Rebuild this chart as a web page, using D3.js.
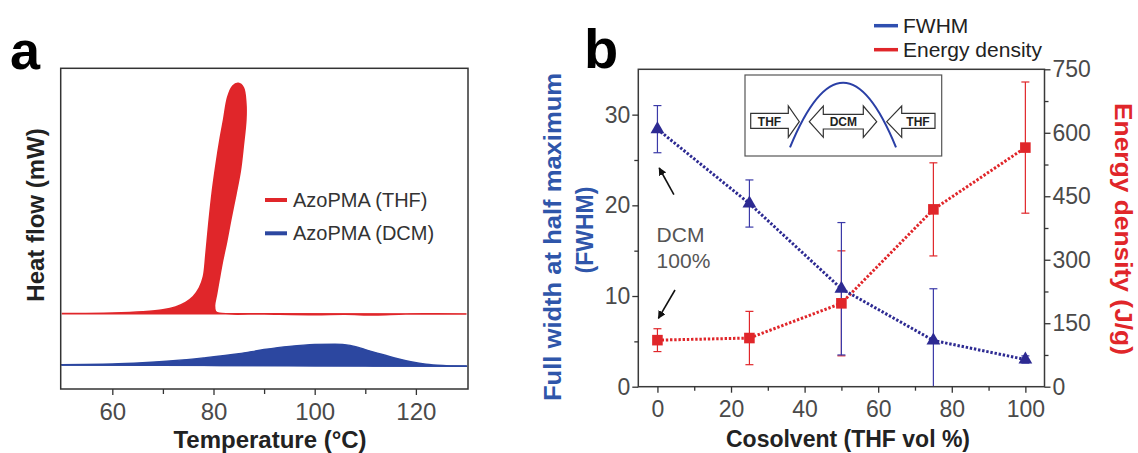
<!DOCTYPE html>
<html>
<head>
<meta charset="utf-8">
<script src="https://cdn.jsdelivr.net/npm/d3@7"></script>
<style>
  body { margin: 0; background: #fff; }
  svg { font-family: "Liberation Sans", Arial, sans-serif; }
  .tick text { fill: #4a4a4a; }
  .tick line { stroke: #333; stroke-width: 1.3; }
</style>
</head>
<body>
<svg id="chart" width="1138" height="453"></svg>
<script>
// ---- panel a: DSC traces (temperature in C, heat flow in arbitrary units) ----
const thfRiseT = [50, 60, 66, 70, 72.5, 74.5, 76, 77.2, 78, 78.5, 79.1, 79.8, 80.5, 81.3, 82, 82.8, 83.8, 84.9];
const thfRiseH = [23.5, 23.7, 24.1, 24.7, 25.6, 27.0, 28.8, 31.5, 35, 42, 52, 62, 70, 78, 84, 91, 94.5, 95.3];
const thfFallT = [85.9, 86.4, 86.4, 85.9, 85.3, 84.4, 83.4, 82.6, 81.8, 81.1, 80.6, 80.2, 80.4, 81.2, 90, 100, 106, 112, 118, 130];
const thfFallH = [94, 89, 84, 76, 68, 60.5, 52.7, 46, 40, 34, 29.5, 26, 24.2, 23.6, 23.4, 23.2, 23.3, 23.1, 23.4, 23.4];
const dcmT = [50, 60, 66, 72, 78, 85, 90, 95, 100, 104, 107, 110, 113, 116, 119, 122, 126, 130];
const dcmH = [7.6, 7.8, 8.2, 8.8, 9.7, 11.0, 12.3, 13.3, 13.9, 14.0, 13.6, 12.3, 10.9, 9.6, 8.5, 7.7, 7.3, 7.15];
const dcmBaseT = [50, 130];
const dcmBaseH = [7.5, 7.1];
const tempTicks = [60, 80, 100, 120];
const tempMinorTicks = [70, 90, 110];
const dscLegend = ['AzoPMA (THF)', 'AzoPMA (DCM)'];

// ---- panel b: FWHM and energy density vs cosolvent ----
const cosolvent = [0, 25, 50, 75, 100];
const fwhm = [28.4, 20.2, 10.8, 5.1, 3.0];
const fwhmErr = [2.6, 2.6, 7.3, 5.7, 0.4];
const energy = [110, 115, 197, 419, 565];
const energyErr = [27, 63, 124, 110, 155];
const cosolventTicks = [0, 20, 40, 60, 80, 100];
const cosolventMinorTicks = [10, 30, 50, 70, 90];
const fwhmTicks = [0, 10, 20, 30];
const fwhmMinorTicks = [5, 15, 25];
const energyTicks = [0, 150, 300, 450, 600, 750];
const energyMinorTicks = [75, 225, 375, 525, 675];
const solventLegend = ['FWHM', 'Energy density'];

const RED = '#e0262a';
const BLUE_A = '#2c47a0';
const NAVY = '#2d2a92';
const TITLE_BLUE = '#2f56aa';

const svg = d3.select('#chart');

// ================= panel a =================
function drawDsc() {
    const box = {left: 60.7, top: 68.3, right: 468, bottom: 389};
    const x = d3.scaleLinear().domain([49.8, 130.3]).range([box.left, box.right]);
    const y = d3.scaleLinear().domain([0, 100]).range([box.bottom, box.top]);
    const g = svg.append('g');

    // THF trace: rising edge then the returning edge, closed onto the baseline
    const thfPts = d3.zip(thfRiseT, thfRiseH).concat(d3.zip(thfFallT, thfFallH));
    const loop = d3.line().x(d => x(d[0])).y(d => y(d[1])).curve(d3.curveCatmullRom.alpha(0.5));
    g.append('path')
        .attr('d', loop(thfPts) + 'Z')
        .attr('fill', RED)
        .attr('stroke', RED)
        .attr('stroke-width', 1.6);

    // DCM trace: area between linear baseline and curve
    const base = d3.scaleLinear().domain(dcmBaseT).range(dcmBaseH);
    const dcmPts = d3.zip(dcmT, dcmH);
    g.append('path')
        .attr('d', d3.area()
            .x(d => x(d[0]))
            .y0(d => y(base(d[0])))
            .y1(d => y(d[1]))
            .curve(d3.curveMonotoneX)(dcmPts))
        .attr('fill', BLUE_A)
        .attr('stroke', BLUE_A)
        .attr('stroke-width', 1.4);
    g.append('line')
        .attr('x1', x(dcmBaseT[0])).attr('x2', x(dcmBaseT[1]))
        .attr('y1', y(dcmBaseH[0])).attr('y2', y(dcmBaseH[1]))
        .attr('stroke', BLUE_A).attr('stroke-width', 1.4);

    // frame
    g.append('rect')
        .attr('x', box.left).attr('y', box.top)
        .attr('width', box.right - box.left).attr('height', box.bottom - box.top)
        .attr('fill', 'none').attr('stroke', '#333').attr('stroke-width', 1.5);

    const xAxisG = g.append('g').attr('transform', `translate(0,${box.bottom})`);
    xAxisG.call(d3.axisBottom(x).tickValues(tempTicks).tickSize(6).tickPadding(8).tickSizeOuter(0))
        .call(a => a.select('.domain').remove());
    xAxisG.selectAll('text').style('font-size', '24px');
    g.append('g').attr('transform', `translate(0,${box.bottom})`)
        .call(d3.axisBottom(x).tickValues(tempMinorTicks).tickSize(5).tickFormat('').tickSizeOuter(0))
        .call(a => a.select('.domain').remove());

    g.append('text')
        .attr('x', 270).attr('y', 448)
        .attr('text-anchor', 'middle')
        .style('font-size', '24px').style('font-weight', 'bold').attr('fill', '#222')
        .text('Temperature (°C)');
    g.append('text')
        .attr('transform', 'translate(36,215) rotate(-90)')
        .attr('dy', '0.35em')
        .attr('text-anchor', 'middle')
        .style('font-size', '24px').style('font-weight', 'bold').attr('fill', '#222')
        .text('Heat flow (mW)');

    // legend
    const legend = g.selectAll('.dsc-legend')
        .data(dscLegend)
        .join('g')
        .attr('class', 'dsc-legend')
        .attr('transform', (d, i) => `translate(265,${200 + i * 33.3})`);
    legend.append('line')
        .attr('x1', 0).attr('x2', 22)
        .attr('stroke', (d, i) => i === 0 ? RED : BLUE_A)
        .attr('stroke-width', 4);
    legend.append('text')
        .attr('x', 28).attr('dy', '0.35em')
        .style('font-size', '20px').attr('fill', '#333')
        .text(d => d);

    svg.append('text')
        .attr('x', 10).attr('y', 69)
        .style('font-size', '54px').style('font-weight', 'bold')
        .text('a');
}

// ================= panel b =================
function drawSolvent() {
    const box = {left: 638.3, top: 69.3, right: 1044.5, bottom: 386.7};
    const x = d3.scaleLinear().domain([-5.2, 105.2]).range([box.left, box.right]);
    const yL = d3.scaleLinear().domain([0, 35]).range([box.bottom, box.top]);
    const yR = d3.scaleLinear().domain([0, 750]).range([box.bottom, box.top]);
    const g = svg.append('g');

    // inset sketch (local coordinates inside its own frame)
    const inset = g.append('g').attr('transform', 'translate(745,75)');
    inset.append('rect')
        .attr('width', 196.7).attr('height', 81)
        .attr('fill', '#fff').attr('stroke', '#555').attr('stroke-width', 1.2);
    const arc = d3.path();
    arc.moveTo(45, 72.3);
    arc.quadraticCurveTo(98.3, -56.9, 151, 72.3);
    inset.append('path')
        .attr('d', arc.toString())
        .attr('fill', 'none').attr('stroke', '#2a3fa6').attr('stroke-width', 2);
    const arrowStyle = s => s.attr('fill', '#fff').attr('stroke', '#333').attr('stroke-width', 1.2);
    inset.append('path')
        .attr('d', 'M5.7,38.3H43.3V31L54.3,46.7L43.3,62.3V53.3H5.7Z')
        .call(arrowStyle);
    inset.append('path')
        .attr('d', 'M64.3,46.7L78.3,31V39.3H118.3V31L131.7,46.7L118.3,62.3V54H78.3V62.3Z')
        .call(arrowStyle);
    inset.append('path')
        .attr('d', 'M190,38.3H156.7V31L141.7,46.7L156.7,62.3V53.3H190Z')
        .call(arrowStyle);
    inset.selectAll('.inset-label')
        .data([['THF', 24.5], ['DCM', 98.3], ['THF', 173]])
        .join('text')
        .attr('class', 'inset-label')
        .attr('x', d => d[1]).attr('y', 46.7).attr('dy', '0.36em')
        .attr('text-anchor', 'middle')
        .style('font-size', '12px').style('font-weight', 'bold').attr('fill', '#222')
        .text(d => d[0]);

    // error bars
    function errorBars(values, errs, yScale, color, cls) {
        const rows = cosolvent.map((c, i) => ({c, lo: Math.max(0, values[i] - errs[i]), hi: values[i] + errs[i], clipped: values[i] - errs[i] < 0}));
        const eg = g.append('g').attr('stroke', color).attr('stroke-width', 1.2);
        eg.selectAll('.' + cls + '-v').data(rows).join('line')
            .attr('x1', d => x(d.c)).attr('x2', d => x(d.c))
            .attr('y1', d => yScale(d.lo)).attr('y2', d => yScale(d.hi));
        eg.selectAll('.' + cls + '-top').data(rows).join('line')
            .attr('x1', d => x(d.c) - 4).attr('x2', d => x(d.c) + 4)
            .attr('y1', d => yScale(d.hi)).attr('y2', d => yScale(d.hi));
        eg.selectAll('.' + cls + '-bot').data(rows.filter(d => !d.clipped)).join('line')
            .attr('x1', d => x(d.c) - 4).attr('x2', d => x(d.c) + 4)
            .attr('y1', d => yScale(d.lo)).attr('y2', d => yScale(d.lo));
    }
    errorBars(energy, energyErr, yR, RED, 'e');
    errorBars(fwhm, fwhmErr, yL, '#3b3aa8', 'f');

    // dotted connecting lines
    g.append('path')
        .attr('d', d3.line().x(d => x(d[0])).y(d => yR(d[1]))(d3.zip(cosolvent, energy)))
        .attr('fill', 'none').attr('stroke', RED)
        .attr('stroke-width', 3).attr('stroke-dasharray', '2.4,1.8');
    g.append('path')
        .attr('d', d3.line().x(d => x(d[0])).y(d => yL(d[1]))(d3.zip(cosolvent, fwhm)))
        .attr('fill', 'none').attr('stroke', NAVY)
        .attr('stroke-width', 3).attr('stroke-dasharray', '2.4,1.8');

    // markers
    g.selectAll('.e-point').data(d3.zip(cosolvent, energy)).join('path')
        .attr('class', 'e-point')
        .attr('transform', d => `translate(${x(d[0])},${yR(d[1])})`)
        .attr('d', d3.symbol(d3.symbolSquare, 112)())
        .attr('fill', RED);
    g.selectAll('.f-point').data(d3.zip(cosolvent, fwhm)).join('path')
        .attr('class', 'f-point')
        .attr('transform', d => `translate(${x(d[0])},${yL(d[1])})`)
        .attr('d', d3.symbol(d3.symbolTriangle, 82)())
        .attr('fill', NAVY);

    // frame and axes
    g.append('rect')
        .attr('x', box.left).attr('y', box.top)
        .attr('width', box.right - box.left).attr('height', box.bottom - box.top)
        .attr('fill', 'none').attr('stroke', '#3a3a3a').attr('stroke-width', 1.5);

    const bottomG = g.append('g').attr('transform', `translate(0,${box.bottom})`);
    bottomG.call(d3.axisBottom(x).tickValues(cosolventTicks).tickSize(6).tickPadding(8).tickSizeOuter(0))
        .call(a => a.select('.domain').remove());
    bottomG.selectAll('text').style('font-size', '23px');
    g.append('g').attr('transform', `translate(0,${box.bottom})`)
        .call(d3.axisBottom(x).tickValues(cosolventMinorTicks).tickSize(4).tickFormat('').tickSizeOuter(0))
        .call(a => a.select('.domain').remove());

    const leftG = g.append('g').attr('transform', `translate(${box.left},0)`);
    leftG.call(d3.axisLeft(yL).tickValues(fwhmTicks).tickSize(6).tickPadding(2).tickSizeOuter(0))
        .call(a => a.select('.domain').remove());
    leftG.selectAll('text').style('font-size', '23px');
    g.append('g').attr('transform', `translate(${box.left},0)`)
        .call(d3.axisLeft(yL).tickValues(fwhmMinorTicks).tickSize(4).tickFormat('').tickSizeOuter(0))
        .call(a => a.select('.domain').remove());

    const rightG = g.append('g').attr('transform', `translate(${box.right},0)`);
    rightG.call(d3.axisRight(yR).tickValues(energyTicks).tickSize(6).tickPadding(2).tickSizeOuter(0))
        .call(a => a.select('.domain').remove());
    rightG.selectAll('text').style('font-size', '23px');
    g.append('g').attr('transform', `translate(${box.right},0)`)
        .call(d3.axisRight(yR).tickValues(energyMinorTicks).tickSize(4).tickFormat('').tickSizeOuter(0))
        .call(a => a.select('.domain').remove());

    // axis titles
    g.append('text')
        .attr('x', 848).attr('y', 447)
        .attr('text-anchor', 'middle')
        .style('font-size', '23px').style('font-weight', 'bold').attr('fill', '#222')
        .text('Cosolvent (THF vol %)');
    g.append('text')
        .attr('transform', 'translate(552.5,237) rotate(-90)')
        .attr('dy', '0.35em').attr('text-anchor', 'middle')
        .attr('textLength', 328).attr('lengthAdjust', 'spacingAndGlyphs')
        .style('font-size', '23px').style('font-weight', 'bold').attr('fill', TITLE_BLUE)
        .text('Full width at half maximum');
    g.append('text')
        .attr('transform', 'translate(585,230) rotate(-90)')
        .attr('dy', '0.35em').attr('text-anchor', 'middle')
        .style('font-size', '23px').style('font-weight', 'bold').attr('fill', TITLE_BLUE)
        .text('(FWHM)');
    g.append('text')
        .attr('transform', 'translate(1123,229) rotate(90)')
        .attr('dy', '0.35em').attr('text-anchor', 'middle')
        .attr('textLength', 252).attr('lengthAdjust', 'spacingAndGlyphs')
        .style('font-size', '24px').style('font-weight', 'bold').attr('fill', RED)
        .text('Energy density (J/g)');

    // DCM 100% annotation with arrows
    const defs = svg.append('defs');
    defs.append('marker')
        .attr('id', 'arrowhead')
        .attr('viewBox', '0 0 10 10').attr('refX', 9).attr('refY', 5)
        .attr('markerWidth', 5).attr('markerHeight', 5)
        .attr('orient', 'auto')
        .append('path').attr('d', 'M0,0L10,5L0,10Z').attr('fill', '#111');
    g.selectAll('.note-arrow')
        .data([[673.9, 194.7, 659.2, 168], [675, 290, 658.4, 318.3]])
        .join('line')
        .attr('class', 'note-arrow')
        .attr('x1', d => d[0]).attr('y1', d => d[1])
        .attr('x2', d => d[2]).attr('y2', d => d[3])
        .attr('stroke', '#111').attr('stroke-width', 1.6)
        .attr('marker-end', 'url(#arrowhead)');
    g.append('text')
        .attr('x', 656.6).attr('y', 241.7)
        .style('font-size', '21px').attr('fill', '#555')
        .text('DCM');
    g.append('text')
        .attr('x', 656.6).attr('y', 268)
        .style('font-size', '21px').attr('fill', '#555')
        .text('100%');

    // legend
    const legend = g.selectAll('.sol-legend')
        .data(solventLegend)
        .join('g')
        .attr('class', 'sol-legend')
        .attr('transform', (d, i) => `translate(874,${25.7 + i * 24})`);
    legend.append('line')
        .attr('x1', 0).attr('x2', 24)
        .attr('stroke', (d, i) => i === 0 ? '#2f4fb0' : RED)
        .attr('stroke-width', 3.5);
    legend.append('text')
        .attr('x', 29).attr('dy', '0.35em')
        .style('font-size', '21px').attr('fill', '#222')
        .text(d => d);

    svg.append('text')
        .attr('x', 584).attr('y', 68)
        .style('font-size', '56px').style('font-weight', 'bold')
        .text('b');
}

drawDsc();
drawSolvent();
</script>
</body>
</html>
